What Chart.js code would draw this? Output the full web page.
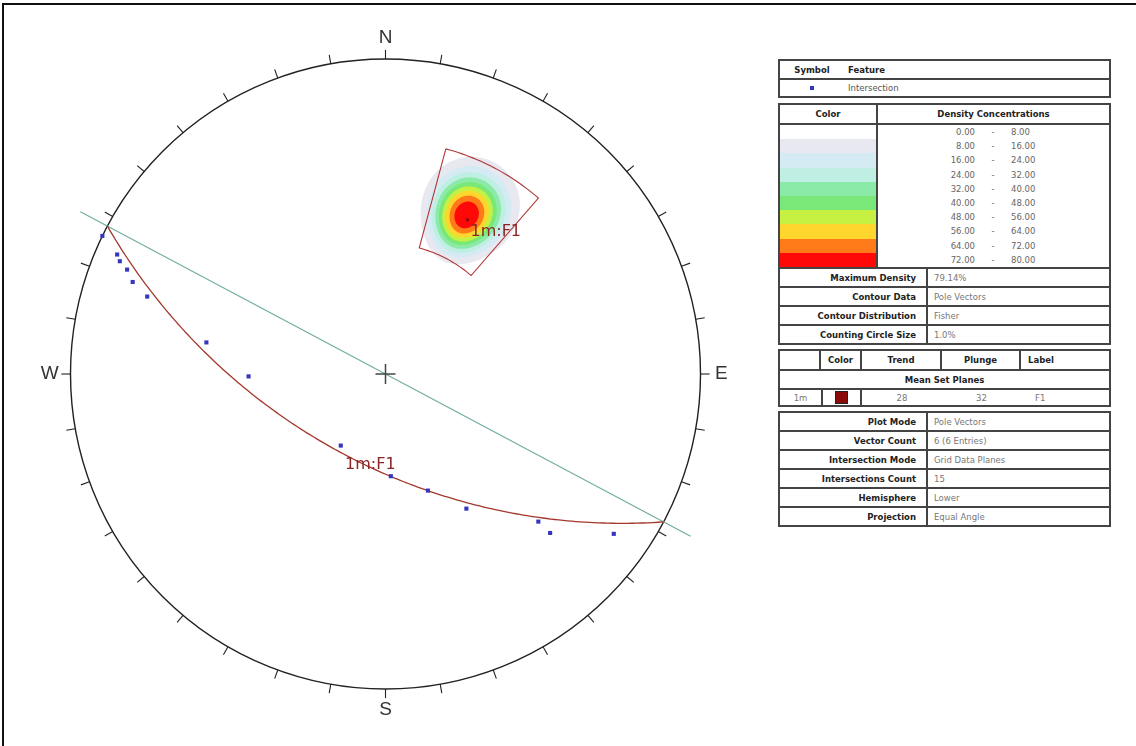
<!DOCTYPE html>
<html>
<head>
<meta charset="utf-8">
<script src="https://cdn.jsdelivr.net/npm/chart.js@4.4.1/dist/chart.umd.min.js"></script>
<style>
html, body { margin: 0; padding: 0; background: #fff; }
body { width: 1136px; height: 746px; position: relative; overflow: hidden; font-family: "DejaVu Sans", Verdana, sans-serif; }
#frame { position: absolute; left: 2px; top: 3px; width: 1200px; height: 800px; border-top: 2px solid #111; border-left: 2px solid #111; }
#plot { position: absolute; left: 0; top: 0; }
.box { position: absolute; left: 778px; width: 333px; box-sizing: border-box; border: 2px solid #444; background: #fff; font-size: 8.5px; color: #777; }
.row { display: flex; box-sizing: border-box; border-top: 2px solid #444; align-items: stretch; }
.row.first { border-top: none; }
.cell { display: flex; align-items: center; box-sizing: border-box; white-space: nowrap; }
.b { font-weight: bold; color: #222; }
.sep { border-right: 2px solid #444; }
.c { justify-content: center; }
.r { justify-content: flex-end; }
</style>
</head>
<body>
<div id="frame"></div>
<canvas id="plot" width="760" height="746"></canvas>
<div id="legend"></div>
<script>
// ---- data ----
const isectTrend  = [296, 294, 293, 292, 290, 288, 280, 269, 212, 177, 160, 149, 134, 134, 125];
const isectPlunge = [0, 4, 5, 7, 9, 13, 30, 43, 60, 54, 47, 37, 22, 18, 7];

const setTrend = 28;
const setPlunge = 32;
const setLabel = '1m:F1';
const setColor = '#8b0a0a';

const windowTrend = [15, 41];
const windowPlunge = [17, 45];

const densityLow  = [0, 8, 16, 24, 32, 40, 48, 56, 64, 72];
const densityHigh = [8, 16, 24, 32, 40, 48, 56, 64, 72, 80];
const densityColors = ['#ffffff', '#e7e8f0', '#d5ebf3', '#bfeee3', '#8ceaa8', '#7ae878', '#c6f042', '#ffd62e', '#ff7a18', '#ff0808'];
const maxDensity = 79.14;
const peakTrend = 27;
const peakPlunge = 31;
const peakSpread = [7.8, 6.7]; // deg: along plunge, across
const peakShape = 2.3;

const statLabels = ['Maximum Density', 'Contour Data', 'Contour Distribution', 'Counting Circle Size'];
const statValues = ['79.14%', 'Pole Vectors', 'Fisher', '1.0%'];
const infoLabels = ['Plot Mode', 'Vector Count', 'Intersection Mode', 'Intersections Count', 'Hemisphere', 'Projection'];
const infoValues = ['Pole Vectors', '6 (6 Entries)', 'Grid Data Planes', '15', 'Lower', 'Equal Angle'];

const D = Math.PI / 180;

// equal angle, lower hemisphere
function project(trend, plunge) {
    const r = Math.tan((90 - plunge) * D / 2);
    return { x: r * Math.sin(trend * D), y: r * Math.cos(trend * D) };
}

function greatCircle(poleTrend, polePlunge) {
    const st = (poleTrend + 90) * D, dd = (poleTrend + 180) * D, dip = (90 - polePlunge) * D;
    const s = [Math.sin(st), Math.cos(st), 0];
    const d = [Math.cos(dip) * Math.sin(dd), Math.cos(dip) * Math.cos(dd), Math.sin(dip)];
    const pts = [];
    for (let i = 0; i <= 180; i++) {
        const c = Math.cos(i * D), n = Math.sin(i * D);
        const v = [s[0] * c + d[0] * n, s[1] * c + d[1] * n, s[2] * c + d[2] * n];
        pts.push({ x: v[0] / (1 + v[2]), y: v[1] / (1 + v[2]) });
    }
    return pts;
}

function contourRing(level) {
    const k = Math.pow(2 * Math.log(maxDensity / level), 1 / peakShape);
    const pts = [];
    for (let i = 0; i <= 72; i++) {
        const a = i * 5 * D;
        const pl = peakPlunge - k * peakSpread[0] * Math.cos(a);
        const tr = peakTrend + k * peakSpread[1] * Math.sin(a) / Math.cos(peakPlunge * D);
        pts.push(project(tr, pl));
    }
    return pts;
}

function windowOutline() {
    const pts = [];
    for (let t = windowTrend[0]; t <= windowTrend[1]; t++) pts.push(project(t, windowPlunge[0]));
    for (let t = windowTrend[1]; t >= windowTrend[0]; t--) pts.push(project(t, windowPlunge[1]));
    pts.push(pts[0]);
    return pts;
}

const datasets = [];

datasets.push({
    label: 'Intersection',
    data: isectTrend.map((t, i) => project(t, isectPlunge[i])),
    pointStyle: 'rect', pointRadius: 2.9, backgroundColor: '#3535c0', borderWidth: 0,
    showLine: false, order: 0, clip: false
});
datasets.push({
    label: 'pole',
    data: [project(setTrend, setPlunge)],
    pointStyle: 'rect', pointRadius: 2, backgroundColor: setColor, borderWidth: 0,
    showLine: false, order: 1, clip: false
});
const strikeAz = (setTrend + 90) * D;
datasets.push({
    label: 'strike',
    data: [-1.097, 1.097].map(r => ({ x: r * Math.sin(strikeAz), y: r * Math.cos(strikeAz) })),
    showLine: true, borderColor: '#74aea2', borderWidth: 1.3, pointRadius: 0, order: 3, clip: false
});
datasets.push({
    label: 'plane',
    data: greatCircle(setTrend, setPlunge),
    showLine: true, borderColor: '#a3382c', borderWidth: 1.3, pointRadius: 0, order: 2, clip: false
});
datasets.push({
    label: 'window',
    data: windowOutline(),
    showLine: true, borderColor: '#b03535', borderWidth: 1.1, pointRadius: 0, order: 4, clip: false
});
densityLow.forEach((lvl, i) => {
    if (lvl <= 0) return;
    datasets.push({
        label: 'density ' + lvl,
        data: contourRing(lvl),
        showLine: true, fill: 'shape', backgroundColor: densityColors[i],
        borderWidth: 0, borderColor: 'rgba(0,0,0,0)', pointRadius: 0, tension: 0.3,
        order: 100 - i, clip: false
    });
});

const netFrame = {
    id: 'netFrame',
    beforeDatasetsDraw(chart) {
        const { ctx, scales: { x, y } } = chart;
        const cx = x.getPixelForValue(0), cy = y.getPixelForValue(0);
        const R = x.getPixelForValue(1) - cx;
        ctx.save();
        ctx.strokeStyle = '#222';
        ctx.lineWidth = 1.4;
        ctx.beginPath();
        ctx.arc(cx, cy, R, 0, Math.PI * 2);
        ctx.stroke();
        ctx.lineWidth = 1.1;
        for (let a = 0; a < 360; a += 10) {
            const sx = Math.sin(a * D), sy = Math.cos(a * D);
            ctx.beginPath();
            ctx.moveTo(x.getPixelForValue(sx), y.getPixelForValue(sy));
            ctx.lineTo(x.getPixelForValue(sx * 1.029), y.getPixelForValue(sy * 1.029));
            ctx.stroke();
        }
        ctx.fillStyle = '#333';
        ctx.font = '19px "Liberation Sans", Arial, sans-serif';
        ctx.textAlign = 'center';
        ctx.textBaseline = 'middle';
        [['N', 0], ['E', 90], ['S', 180], ['W', 270]].forEach(([t, a]) => {
            ctx.fillText(t, x.getPixelForValue(1.066 * Math.sin(a * D)), y.getPixelForValue(1.066 * Math.cos(a * D)));
        });
        ctx.restore();
    },
    afterDatasetsDraw(chart) {
        const { ctx, scales: { x, y } } = chart;
        const cx = x.getPixelForValue(0), cy = y.getPixelForValue(0);
        ctx.save();
        ctx.strokeStyle = '#444';
        ctx.lineWidth = 1.5;
        ctx.beginPath();
        ctx.moveTo(cx - 10, cy); ctx.lineTo(cx + 10, cy);
        ctx.moveTo(cx, cy - 10); ctx.lineTo(cx, cy + 10);
        ctx.stroke();
        ctx.fillStyle = '#8b2424';
        ctx.font = '16px "DejaVu Sans", sans-serif';
        ctx.textAlign = 'left';
        ctx.textBaseline = 'middle';
        const p = project(setTrend, setPlunge);
        ctx.fillText(setLabel, x.getPixelForValue(p.x) + 3, y.getPixelForValue(p.y) + 12.5);
        const m = project(setTrend + 180, 90 - setPlunge);
        ctx.fillText(setLabel, x.getPixelForValue(m.x) + 2, y.getPixelForValue(m.y) + 11.5);
        ctx.restore();
    }
};

new Chart(document.getElementById('plot').getContext('2d'), {
    type: 'scatter',
    data: { datasets },
    options: {
        responsive: false,
        animation: false,
        events: [],
        layout: { padding: { left: 70.5, top: 59, right: 59.5, bottom: 57 } },
        scales: {
            x: { type: 'linear', min: -1, max: 1, display: false },
            y: { type: 'linear', min: -1, max: 1, display: false }
        },
        plugins: { legend: { display: false }, tooltip: { enabled: false } }
    },
    plugins: [netFrame]
});

// ---- side tables ----
function cell(text, cls, style) {
    return '<div class="cell ' + (cls || '') + '" style="' + (style || '') + '">' + text + '</div>';
}
function row(content, h, first) {
    return '<div class="row' + (first ? ' first' : '') + '" style="height:' + h + 'px">' + content + '</div>';
}

let html = '';

// symbol table
html += '<div class="box" style="top:59px">';
html += row(cell('Symbol', 'b c', 'width:64px') + cell('Feature', 'b', 'padding-left:4px'), 17, true);
html += row(cell('<span style="display:inline-block;width:4px;height:4px;background:#3535c0"></span>', 'c', 'width:64px') +
            cell('Intersection', '', 'padding-left:4px;color:#555'), 18);
html += '</div>';

// density table + stats
html += '<div class="box" style="top:103px">';
html += row(cell('Color', 'b c sep', 'width:98px') + cell('Density Concentrations', 'b c', 'flex:1'), 18, true);
let stripes = '', ranges = '';
densityLow.forEach((lo, i) => {
    stripes += '<div style="height:14.2px;background:' + densityColors[i] + '"></div>';
    ranges += '<div style="height:14.2px;display:flex;align-items:center;color:#666">' +
        '<span style="display:inline-block;width:97px;text-align:right">' + lo.toFixed(2) + '</span>' +
        '<span style="display:inline-block;width:36px;text-align:center">-</span>' +
        '<span>' + densityHigh[i].toFixed(2) + '</span></div>';
});
html += row('<div class="sep" style="width:98px;box-sizing:border-box">' + stripes + '</div><div style="flex:1">' + ranges + '</div>', 144);
statLabels.forEach((l, i) => {
    html += row(cell(l, 'b r sep', 'width:148px;padding-right:10px') + cell(statValues[i], '', 'padding-left:6px'), 19);
});
html += '</div>';

// mean set planes
html += '<div class="box" style="top:349px">';
html += row(cell('', 'sep', 'width:41px') + cell('Color', 'b c sep', 'width:41px') + cell('Trend', 'b c sep', 'width:80px') +
            cell('Plunge', 'b c sep', 'width:79px') + cell('Label', 'b', 'padding-left:7px'), 18, true);
html += row(cell('Mean Set Planes', 'b c', 'flex:1'), 19);
html += row(cell('1m', 'c', 'width:41px') +
            cell('<span style="display:inline-block;width:11px;height:11px;background:' + setColor + ';border:1px solid #222"></span>', 'c', 'width:41px;border-left:2px solid #444;border-right:2px solid #444') +
            cell(String(setTrend), 'c', 'width:80px') + cell(String(setPlunge), 'c', 'width:79px') +
            cell('F1', '', 'padding-left:14px'), 17);
html += '</div>';

// info table
html += '<div class="box" style="top:411px">';
infoLabels.forEach((l, i) => {
    html += row(cell(l, 'b r sep', 'width:148px;padding-right:10px') + cell(infoValues[i], '', 'padding-left:6px'), i === 0 ? 17 : 19, i === 0);
});
html += '</div>';

document.getElementById('legend').innerHTML = html;
</script>
</body>
</html>
